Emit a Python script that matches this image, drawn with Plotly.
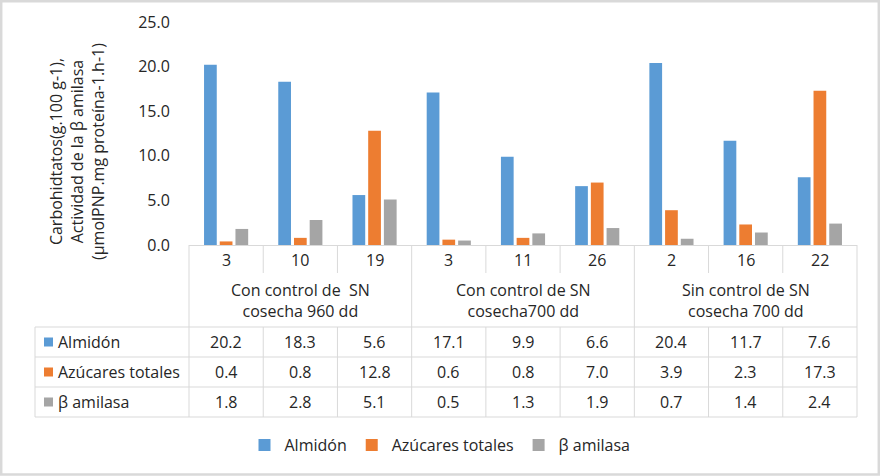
import plotly.graph_objects as go

# ---------------- data ----------------
days = ["3", "10", "19", "3", "11", "26", "2", "16", "22"]
groups = ["Con control de  SN<br>cosecha 960 dd",
          "Con control de SN<br>cosecha700 dd",
          "Sin control de SN<br>cosecha 700 dd"]
series_names = ["Almidón", "Azúcares totales", "β amilasa"]
almidon = [20.2, 18.3, 5.6, 17.1, 9.9, 6.6, 20.4, 11.7, 7.6]
azucares = [0.4, 0.8, 12.8, 0.6, 0.8, 7.0, 3.9, 2.3, 17.3]
amilasa = [1.8, 2.8, 5.1, 0.5, 1.3, 1.9, 0.7, 1.4, 2.4]
colors = ["#5B9BD5", "#ED7D31", "#A5A5A5"]
y_title = "Carbohidtatos(g.100 g-1),<br>Actividad de la β amilasa<br>(µmolPNP.mg proteína-1.h-1)"

# ---------------- layout geometry (pixels) ----------------
W, H = 880, 476
PL, PR, PT, PB = 189, 857, 22, 245
FONT = "Open Sans"
FS = 16
TXT = "#262626"
GRID = "#D9D9D9"

n = len(days)
xs = list(range(n))
xr = [-0.5, n - 0.5]


def px_x(px):
    return (px - PL) / (PR - PL)


def px_y(py):
    return (PB - py) / (PB - PT)


def data_x(x):
    return (x - xr[0]) / (xr[1] - xr[0])


fig = go.Figure()
for name, vals, col in zip(series_names, [almidon, azucares, amilasa], colors):
    fig.add_trace(go.Bar(x=xs, y=vals, name=name, marker_color=col,
                         marker_line_width=0))

shapes = []


def hline(py, x0px, x1px):
    shapes.append(dict(type="line", xref="paper", yref="paper",
                       x0=px_x(x0px), x1=px_x(x1px), y0=px_y(py), y1=px_y(py),
                       line=dict(color=GRID, width=1)))


def vline_data(xb, py0, py1):
    shapes.append(dict(type="line", xref="paper", yref="paper",
                       x0=data_x(xb), x1=data_x(xb), y0=px_y(py0), y1=px_y(py1),
                       line=dict(color=GRID, width=1)))


ROW_TICK = 260
ROWS = [342, 372, 402]
ROW_LINES = [327, 357, 387, 417]

# vertical lines
for i in range(n + 1):
    xb = i - 0.5
    if i % 3 == 0:
        vline_data(xb, PB, 417)
    else:
        vline_data(xb, PB, 273)
        vline_data(xb, 327, 417)
# left border of table
shapes.append(dict(type="line", xref="paper", yref="paper",
                   x0=px_x(35), x1=px_x(35), y0=px_y(327), y1=px_y(417),
                   line=dict(color=GRID, width=1)))
for py in ROW_LINES:
    hline(py, 35, PR)

# row legend keys
for col, py in zip(colors, ROWS):
    shapes.append(dict(type="rect", xref="paper", yref="paper",
                       x0=px_x(44), x1=px_x(53), y0=px_y(py - 4.5), y1=px_y(py + 4.5),
                       fillcolor=col, line=dict(width=0)))

# outer frame
shapes.append(dict(type="rect", xref="paper", yref="paper",
                   x0=px_x(1.2), x1=px_x(W - 1.2), y0=px_y(1.2), y1=px_y(H - 1.5),
                   line=dict(color=GRID, width=2.5), fillcolor="rgba(0,0,0,0)"))


def text_ann(x, y, text, xref="x", xanchor="center", **kw):
    return dict(x=x, y=y, xref=xref, yref="paper", text=text,
                xanchor=xanchor, yanchor="middle", showarrow=False,
                font=dict(size=FS, color=TXT, family=FONT), **kw)


ann = []
# day labels
for i, d in enumerate(days):
    ann.append(text_ann(i, px_y(ROW_TICK), d))
# group labels
for g, lab in enumerate(groups):
    ann.append(text_ann(g * 3 + 1, px_y(300.5), lab))
# table values
for r, vals in enumerate([almidon, azucares, amilasa]):
    ann.append(text_ann(px_x(56), px_y(ROWS[r]), series_names[r],
                        xref="paper", xanchor="left"))
    for i, v in enumerate(vals):
        ann.append(text_ann(i, px_y(ROWS[r]), f"{v:.1f}"))
# y-axis title
ann.append(text_ann(px_x(77), px_y(152), y_title, xref="paper", textangle=-90))

fig.update_layout(
    width=W, height=H,
    margin=dict(l=PL, r=W - PR, t=PT, b=H - PB, pad=0, autoexpand=False),
    paper_bgcolor="white", plot_bgcolor="white",
    barmode="group", bargap=0.365, bargroupgap=0.19,
    font=dict(family=FONT, size=FS, color=TXT),
    xaxis=dict(range=xr, showticklabels=False, ticks="", showgrid=False,
               zeroline=False, showline=True, linecolor=GRID, linewidth=1),
    yaxis=dict(range=[0, 25], dtick=5, tickformat=".1f", showgrid=False,
               zeroline=False, showline=False, ticks="outside", ticklen=15,
               tickcolor="rgba(0,0,0,0)",
               tickfont=dict(size=FS, color=TXT, family=FONT)),
    legend=dict(orientation="h", x=px_x(440), xanchor="center",
                y=px_y(445), yanchor="middle",
                font=dict(size=FS, color=TXT, family=FONT),
                bgcolor="rgba(0,0,0,0)"),
    shapes=shapes,
    annotations=ann,
)

fig.write_html("out.html", config={"displayModeBar": False},
               post_script="document.body.style.margin='0';document.body.style.padding='0';")
